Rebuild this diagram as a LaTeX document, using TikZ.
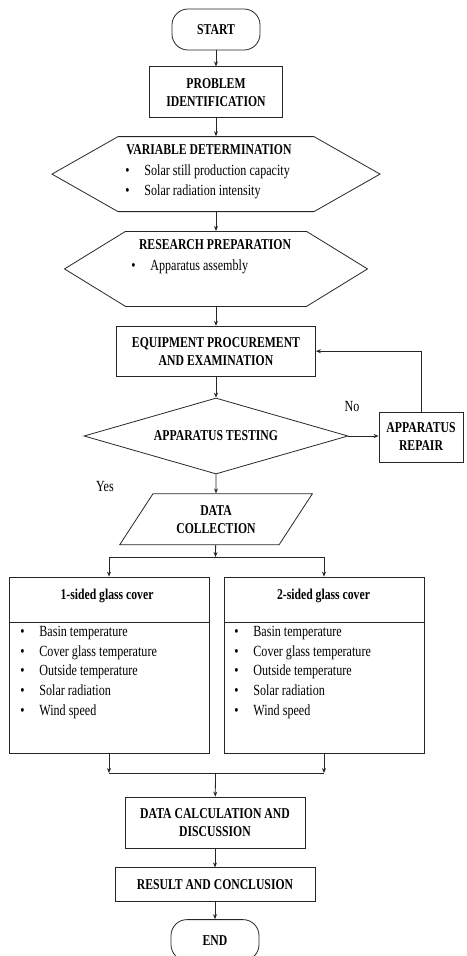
\documentclass[tikz,border=0pt]{standalone}
\usepackage{fontspec}
\setmainfont{Liberation Serif}[FakeStretch=0.78]
\usetikzlibrary{positioning, arrows.meta, shapes.geometric, shapes.symbols}

\newcommand{\bul}{\makebox[19pt][l]{\textbullet}}

\begin{document}
\begin{tikzpicture}[x=1pt, y=1pt, >={Stealth[length=5pt,width=4pt]},
  line width=0.8pt, draw=black!85,
  every node/.style={font=\fontsize{15.5}{19.7}\selectfont},
  ttl/.style={font=\fontsize{15}{18}\selectfont\bfseries},
  box/.style={draw, rectangle, inner sep=0pt, align=center, ttl},
  term/.style={draw, rounded corners=16pt, minimum width=88pt, minimum height=41pt, inner sep=0pt, ttl},
  hexa/.style={draw, signal, signal to=west and east, minimum height=75pt, inner sep=0pt},
  lst/.style={anchor=west, align=left, inner sep=0pt}]
  \useasboundingbox (0,0) rectangle (466,-956);

  % Start and problem
  \node[term] (start) at (216,-29.5) {START};
  \node[box, minimum width=133pt, minimum height=51pt, below=16pt of start] (probid) {PROBLEM\\IDENTIFICATION};

  % Variables
  \node[hexa, minimum width=328pt, signal pointer angle=59.2, below=18pt of probid] (vardet) {};
  \node[ttl] at (209,-150) {VARIABLE DETERMINATION};
  \node[lst] at (125,-181.5) {\bul Solar still production capacity\\\bul Solar radiation intensity};

  % Preparation
  \node[hexa, minimum width=303pt, signal pointer angle=63.2, below=19pt of vardet] (resprep) {};
  \node[ttl] at (215,-245) {RESEARCH PREPARATION};
  \node[lst] at (131,-267) {\bul Apparatus assembly};

  % Equipment and testing
  \node[box, minimum width=199pt, minimum height=50pt, below=19pt of resprep] (equip) {EQUIPMENT PROCUREMENT\\AND EXAMINATION};
  \node[draw, diamond, aspect=3.47, minimum width=264pt, minimum height=76pt, inner sep=0pt, ttl, below=21pt of equip] (test) {APPARATUS TESTING};
  \node[box, minimum width=84pt, minimum height=50pt] (repair) at (421,-437) {APPARATUS\\REPAIR};

  % Data collection
  \node[draw, trapezium, trapezium left angle=53.3, trapezium right angle=126.7, trapezium stretches=true,
    minimum width=193pt, minimum height=51pt, inner sep=0pt, align=center, ttl, below=19pt of test] (datacol) {DATA\\COLLECTION};

  % Glass cover boxes
  \node[draw, minimum width=200pt, minimum height=176pt, inner sep=0pt] (glass1) at (109,-665) {};
  \node[draw, minimum width=200pt, minimum height=176pt, inner sep=0pt] (glass2) at (324,-665) {};
  \draw ([yshift=-46pt]glass1.north west) -- ([yshift=-46pt]glass1.north east);
  \draw ([yshift=-46pt]glass2.north west) -- ([yshift=-46pt]glass2.north east);
  \node[ttl] at (107,-596) {1-sided glass cover};
  \node[ttl] at (323.5,-596) {2-sided glass cover};
  \node[lst] at (20,-672.5) {\bul Basin temperature\\\bul Cover glass temperature\\\bul Outside temperature\\\bul Solar radiation\\\bul Wind speed};
  \node[lst] at (234,-672.5) {\bul Basin temperature\\\bul Cover glass temperature\\\bul Outside temperature\\\bul Solar radiation\\\bul Wind speed};

  % Calculation and end
  \node[box, minimum width=180pt, minimum height=51pt] (calc) at (215,-822.5) {DATA CALCULATION AND\\DISCUSSION};
  \node[box, minimum width=200pt, minimum height=34pt, below=19pt of calc] (result) {RESULT AND CONCLUSION};
  \node[term, below=17pt of result] (end) {END};

  % Connections
  \draw[->] (start) -- (probid);
  \draw[->] (probid) -- (vardet);
  \draw[->] (vardet) -- (resprep);
  \draw[->] (resprep) -- (equip);
  \draw[->] (equip) -- (test);
  \draw[->] (test.east) -- (test.east -| repair.west);
  \draw[->] (repair.north) |- (equip.east);
  \draw[->] (test) -- (datacol);
  \node at (352,-406) {No};
  \node at (105,-486) {Yes};

  \coordinate (split) at (215.5,-557);
  \draw[->] (datacol) -- (split);
  \draw[->] (split) -| (glass1);
  \draw[->] (split) -| (glass2);

  \coordinate (merge) at (215.5,-773);
  \draw[->] (glass1.south) -- (glass1.south |- merge);
  \draw[->] (glass2.south) -- (glass2.south |- merge);
  \draw (glass1.south |- merge) -- (glass2.south |- merge);
  \draw[->] (merge) -- (calc);
  \draw[->] (calc) -- (result);
  \draw[->] (result) -- (end);
\end{tikzpicture}
\end{document}
